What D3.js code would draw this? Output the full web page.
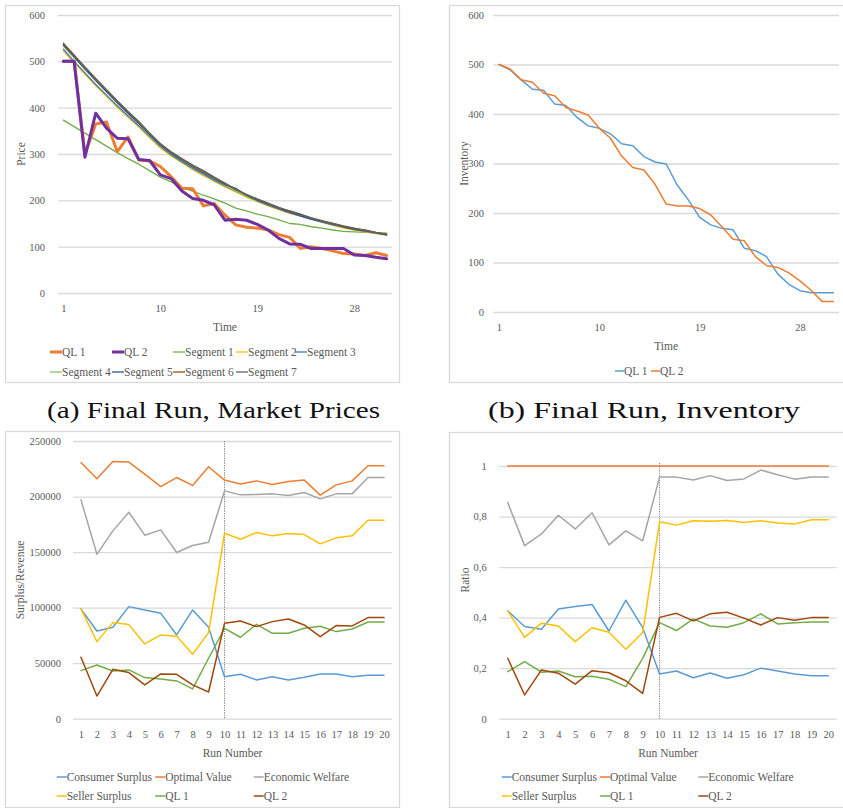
<!DOCTYPE html>
<html><head><meta charset="utf-8">
<script src="https://cdn.jsdelivr.net/npm/d3@7/dist/d3.min.js"></script>
<style>
body{margin:0;background:#fff}
text{font-family:"Liberation Serif","DejaVu Serif",serif;fill:#595959}
</style>
</head><body>
<svg id="c" width="843" height="808"></svg>
<script>
// ---------- DATA ----------
const timeSteps = [1,2,3,4,5,6,7,8,9,10,11,12,13,14,15,16,17,18,19,20,21,22,23,24,25,26,27,28,29,30,31];
const timeTicks = [1,10,19,28];
const priceTicks = [0,100,200,300,400,500,600];

const priceQL1 = [500,500,300,365,369,305,337,287,285,273,251,226,225,188,193,168,147,142,140,136,126,120,96,100,96,91,85,84,81,87,81];
const priceQL2 = [500,500,293,388,356,334,333,288,286,255,247,220,204,200,190,157,159,157,148,136,118,106,105,96,96,96,96,82,81,77,74];
const priceSeg1 = [373,359,345,331,317,303,290,278,264,250,240,228,220,211,203,194,183,177,170,165,158,150,148,143,140,136,133,132,131,130,129];
const priceSeg2 = [522,497,472,447,424,401,379,358,335,313,296,281,266,253,241,229,218,207,197,188,180,172,166,160,153,146,140,136,132,128,125];
const priceSeg3 = [526,500,475,450,427,404,382,361,338,316,298,283,269,256,243,231,220,209,199,189,181,173,166,159,153,147,142,137,133,129,125];
const priceSeg4 = [533,508,483,458,434,410,387,365,341,318,300,285,271,258,245,232,220,209,199,190,181,178,170,161,155,149,144,139,134,130,128];
const priceSeg5 = [535,510,484,459,435,411,388,366,342,319,301,286,272,259,246,234,226,211,200,191,182,175,167,160,154,149,143,138,134,130,126];
const priceSeg6 = [537,512,487,462,438,414,391,369,345,322,304,289,275,262,249,236,223,212,202,193,184,176,169,162,156,150,144,139,136,131,127];
const priceSeg7 = [539,514,488,463,439,415,392,370,345,322,305,290,276,264,250,237,224,213,203,194,185,177,170,162,155,150,145,140,135,131,126];

const invTicks = [0,100,200,300,400,500,600];
const invQL1 = [500,489,469,450,448,420,417,393,376,371,360,340,336,314,303,299,256,226,191,176,169,166,129,124,112,77,56,43,39,39,39];
const invQL2 = [500,491,469,464,442,437,413,406,398,371,351,315,292,287,258,218,214,214,209,196,172,147,144,112,94,90,79,63,44,21,21];

const runs = [1,2,3,4,5,6,7,8,9,10,11,12,13,14,15,16,17,18,19,20];
const surplusTicks = [0,50000,100000,150000,200000,250000];
const ratioTicks = [0,0.2,0.4,0.6,0.8,1];
const splitRun = 10;

const svConsumer = [98800,79000,82300,100900,97900,95000,75400,97900,82300,37800,40000,34900,37800,34900,37300,40300,40300,37800,39100,39100];
const svOptimal  = [230600,216000,231500,231000,220200,209000,217100,210000,226800,214800,211200,214100,210800,213500,214800,201300,210500,214100,227700,227700];
const svWelfare  = [197000,148100,169100,185900,165200,170000,149600,155900,158900,205100,201500,201800,202400,200900,203600,197900,202400,202400,217100,217100];
const svSeller   = [98800,69400,86500,84700,67300,75400,74200,58000,77500,167000,161600,167600,164600,166700,165800,157400,162800,164600,178700,178700];
const svQL1      = [43300,48400,43000,43900,37000,35800,34000,26800,54400,81400,73300,85000,76900,76900,81400,83200,78400,80800,87100,87100];
const svQL2      = [55300,20400,44500,41500,30400,40300,40000,30400,24000,85900,88000,82900,87400,89800,84400,73900,83800,83500,91000,91000];

const rtConsumer = [0.427,0.365,0.354,0.434,0.444,0.452,0.347,0.469,0.360,0.177,0.189,0.162,0.181,0.160,0.174,0.200,0.189,0.177,0.170,0.170];
const rtOptimal  = [1,1,1,1,1,1,1,1,1,1,1,1,1,1,1,1,1,1,1,1];
const rtWelfare  = [0.855,0.685,0.731,0.805,0.751,0.815,0.688,0.743,0.704,0.956,0.956,0.945,0.962,0.943,0.949,0.984,0.965,0.948,0.956,0.956];
const rtSeller   = [0.427,0.322,0.378,0.367,0.305,0.360,0.342,0.275,0.341,0.779,0.766,0.783,0.781,0.784,0.776,0.783,0.774,0.770,0.787,0.787];
const rtQL1      = [0.186,0.226,0.184,0.189,0.166,0.168,0.156,0.127,0.239,0.380,0.349,0.395,0.367,0.362,0.380,0.415,0.375,0.380,0.383,0.383];
const rtQL2      = [0.239,0.094,0.193,0.180,0.137,0.190,0.182,0.150,0.100,0.401,0.417,0.387,0.415,0.421,0.398,0.371,0.400,0.390,0.400,0.400];

const captionA = "(a) Final Run, Market Prices";
const captionB = "(b) Final Run, Inventory";

// ---------- DRAWING ----------
const svg = d3.select("#c");
const GRID = "#D9D9D9";
const FONT = '"Liberation Serif",serif';

function drawPanel(cfg) {
  const g = svg.append("g");
  g.append("rect").attr("x", cfg.frame[0]+0.5).attr("y", cfg.frame[1]+0.5)
    .attr("width", cfg.frame[2]-cfg.frame[0]).attr("height", cfg.frame[3]-cfg.frame[1])
    .attr("fill", "#fff").attr("stroke", GRID).attr("stroke-width", 1.3);

  const x = d3.scalePoint().domain(cfg.cats).range(cfg.xr).padding(0.5);
  const y = d3.scaleLinear().domain(cfg.yDomain).range(cfg.yr);

  const ya = g.append("g").attr("transform", `translate(${cfg.xr[0]},0)`)
    .call(d3.axisLeft(y).tickValues(cfg.yTicks).tickFormat(cfg.yFmt)
      .tickSize(-(cfg.xr[1]-cfg.xr[0])).tickPadding(cfg.yPad));
  ya.select(".domain").remove();
  ya.selectAll(".tick line").attr("stroke", GRID).attr("stroke-width", 1.3);
  ya.selectAll(".tick text").attr("font-size", 10.5).attr("fill", "#595959").style("font-family", FONT);

  const xa = g.append("g").attr("transform", `translate(0,${cfg.yr[0]})`)
    .call(d3.axisBottom(x).tickValues(cfg.xTicks).tickSize(0).tickPadding(12));
  xa.select(".domain").remove();
  xa.selectAll(".tick text").attr("font-size", 10.5).attr("fill", "#595959").style("font-family", FONT);

  if (cfg.vline !== undefined) {
    g.append("line").attr("x1", x(cfg.vline)).attr("x2", x(cfg.vline))
      .attr("y1", cfg.vTop).attr("y2", cfg.yr[0])
      .attr("stroke", "#7F7F7F").attr("stroke-width", 1).attr("stroke-dasharray", "1.2,1.2");
  }

  const line = d3.line().x((d,i) => x(cfg.cats[i])).y(d => y(d));
  cfg.series.forEach(s => {
    g.append("path").datum(s.values).attr("d", line).attr("fill", "none")
      .attr("stroke", s.color).attr("stroke-width", s.w)
      .attr("stroke-linejoin", "round").attr("stroke-linecap", "round");
  });

  g.append("text").attr("x", (cfg.xr[0]+cfg.xr[1])/2).attr("y", cfg.xTitleY)
    .attr("text-anchor", "middle").attr("font-size", 11.5).text(cfg.xTitle);
  g.append("text").attr("transform", `translate(${cfg.yTitleX},${cfg.yTitleY}) rotate(-90)`)
    .attr("text-anchor", "middle").attr("font-size", 11.5).text(cfg.yTitle);

  cfg.legend.forEach(([name, lx, ly]) => {
    const s = cfg.series.find(q => q.name === name);
    g.append("line").attr("x1", lx).attr("x2", lx+cfg.legendLen)
      .attr("y1", ly).attr("y2", ly).attr("stroke", s.color).attr("stroke-width", s.w);
    g.append("text").attr("x", lx+cfg.legendLen).attr("y", ly).attr("dy", "0.35em")
      .attr("font-size", 11.5).text(name);
  });
}

// (a) prices
drawPanel({
  frame: [5, 5, 399, 382],
  cats: timeSteps, xr: [58, 392], yr: [293, 15], yDomain: [0, 600],
  yTicks: priceTicks, yFmt: d3.format("d"), yPad: 13, xTicks: timeTicks,
  xTitle: "Time", xTitleY: 331, yTitle: "Price", yTitleX: 25, yTitleY: 154,
  legendLen: 12,
  legend: [["QL 1",50,352],["QL 2",112,352],["Segment 1",173,352],["Segment 2",236,352],["Segment 3",295,352],
           ["Segment 4",50,372],["Segment 5",112,372],["Segment 6",173,372],["Segment 7",236,372]],
  series: [
    {name:"Segment 1", values: priceSeg1, color:"#70AD47", w:1.3},
    {name:"Segment 2", values: priceSeg2, color:"#FFC000", w:1.3},
    {name:"Segment 3", values: priceSeg3, color:"#4472C4", w:1.3},
    {name:"Segment 4", values: priceSeg4, color:"#8CC168", w:1.3},
    {name:"Segment 5", values: priceSeg5, color:"#255E91", w:1.3},
    {name:"Segment 6", values: priceSeg6, color:"#9E480E", w:1.3},
    {name:"Segment 7", values: priceSeg7, color:"#636363", w:1.3},
    {name:"QL 1", values: priceQL1, color:"#ED7D31", w:3},
    {name:"QL 2", values: priceQL2, color:"#7030A0", w:3}
  ]
});

// (b) inventory
drawPanel({
  frame: [449, 5, 870, 382],
  cats: timeSteps, xr: [493.4, 839], yr: [312, 15], yDomain: [0, 600],
  yTicks: invTicks, yFmt: d3.format("d"), yPad: 9.5, xTicks: timeTicks,
  xTitle: "Time", xTitleY: 349.5, yTitle: "Inventory", yTitleX: 468, yTitleY: 163.5,
  legendLen: 9,
  legend: [["QL 1",615,371],["QL 2",651,371]],
  series: [
    {name:"QL 1", values: invQL1, color:"#5B9BD5", w:1.5},
    {name:"QL 2", values: invQL2, color:"#ED7D31", w:1.5}
  ]
});

const econLegend = (x0, dx) => [
  ["Consumer Surplus", x0, 777],["Optimal Value", x0+dx, 777],["Economic Welfare", x0+2*dx, 777],
  ["Seller Surplus", x0, 796],["QL 1", x0+dx, 796],["QL 2", x0+2*dx, 796]];

// (c) surplus / revenue
drawPanel({
  frame: [5, 431, 399, 807],
  cats: runs, xr: [73, 392], yr: [718.7, 441], yDomain: [0, 250000],
  yTicks: surplusTicks, yFmt: d3.format("d"), yPad: 12, xTicks: runs,
  xTitle: "Run Number", xTitleY: 756.5, yTitle: "Surplus/Revenue", yTitleX: 24, yTitleY: 580,
  vline: splitRun, vTop: 441,
  legendLen: 10,
  legend: econLegend(56.7, 98.5),
  series: [
    {name:"Consumer Surplus", values: svConsumer, color:"#5B9BD5", w:1.5},
    {name:"Optimal Value", values: svOptimal, color:"#ED7D31", w:1.5},
    {name:"Economic Welfare", values: svWelfare, color:"#A5A5A5", w:1.5},
    {name:"Seller Surplus", values: svSeller, color:"#FFC000", w:1.5},
    {name:"QL 1", values: svQL1, color:"#70AD47", w:1.5},
    {name:"QL 2", values: svQL2, color:"#9E480E", w:1.5}
  ]
});

// (d) ratio
const ratioFmt = d => (d === 0 || d === 1) ? String(d) : d3.format(".1f")(d).replace(".", ",");
drawPanel({
  frame: [449, 432, 870, 807],
  cats: runs, xr: [499.3, 836.7], yr: [718.7, 466], yDomain: [0, 1],
  yTicks: ratioTicks, yFmt: ratioFmt, yPad: 12.6, xTicks: runs,
  xTitle: "Run Number", xTitleY: 756.5, yTitle: "Ratio", yTitleX: 469, yTitleY: 580,
  vline: splitRun, vTop: 463,
  legendLen: 10,
  legend: econLegend(501.7, 98.3),
  series: [
    {name:"Consumer Surplus", values: rtConsumer, color:"#5B9BD5", w:1.5},
    {name:"Optimal Value", values: rtOptimal, color:"#ED7D31", w:1.5},
    {name:"Economic Welfare", values: rtWelfare, color:"#A5A5A5", w:1.5},
    {name:"Seller Surplus", values: rtSeller, color:"#FFC000", w:1.5},
    {name:"QL 1", values: rtQL1, color:"#70AD47", w:1.5},
    {name:"QL 2", values: rtQL2, color:"#9E480E", w:1.5}
  ]
});

// captions
svg.append("text").attr("x", 213.5).attr("y", 418).attr("text-anchor", "middle")
  .attr("font-size", 24).attr("textLength", 333).attr("lengthAdjust", "spacingAndGlyphs")
  .style("fill", "#111").text(captionA);
svg.append("text").attr("x", 644).attr("y", 418).attr("text-anchor", "middle")
  .attr("font-size", 24).attr("textLength", 312).attr("lengthAdjust", "spacingAndGlyphs")
  .style("fill", "#111").text(captionB);
</script>
</body></html>
